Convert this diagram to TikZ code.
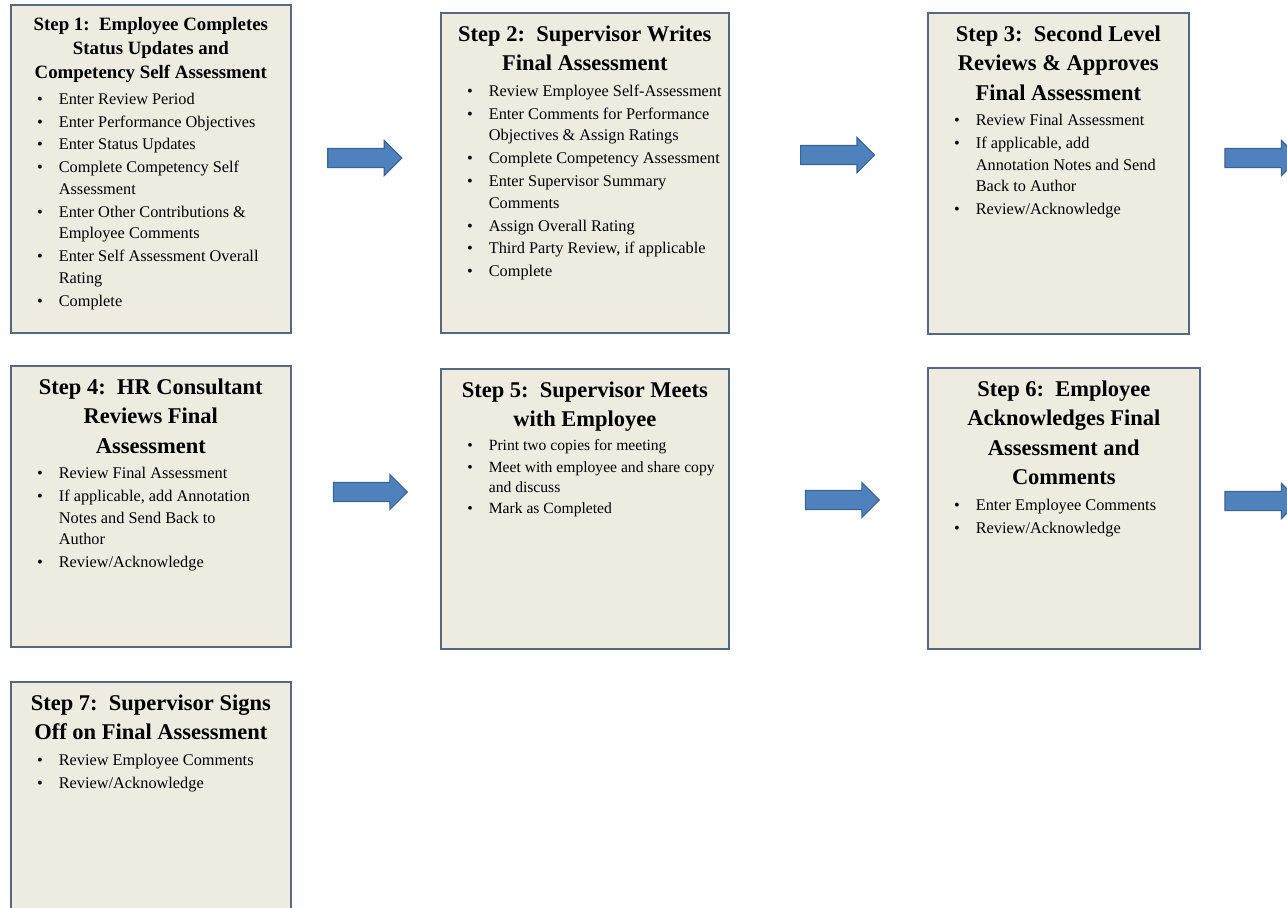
\documentclass[tikz,border=0pt]{standalone}
\usepackage{fontspec}
\setmainfont{Liberation Serif}
\usetikzlibrary{shapes.arrows}

\definecolor{boxfill}{HTML}{EEEBE0}
\definecolor{boxline}{HTML}{55687F}
\definecolor{arrowfill}{HTML}{4F81BD}
\definecolor{arrowline}{HTML}{3A6396}

\newcommand{\titlefont}{\fontsize{16}{21}\selectfont}
\newcommand{\smalltitlefont}{\fontsize{13.4}{17}\selectfont}
\newcommand{\bodyfont}{\fontsize{11.6}{15.3}\selectfont}
\newcommand{\smallbodyfont}{\fontsize{11.1}{14.2}\selectfont}

\newenvironment{steplist}{%
  \begin{list}{\textbullet}{%
    \setlength{\leftmargin}{1.2cm}\setlength{\rightmargin}{0pt}%
    \setlength{\labelwidth}{0.2cm}\setlength{\labelsep}{0.4cm}%
    \setlength{\topsep}{0pt}\setlength{\partopsep}{0pt}%
    \setlength{\parsep}{0pt}\setlength{\itemsep}{1pt}}}%
  {\end{list}}

% width, height, title font, title, body font, items
\newcommand{\steptext}[6]{%
  \parbox[t][#2][t]{#1}{\vspace*{9pt}%
    {\centering\bfseries #3#4\par}\vspace{3pt}%
    #5\raggedright
    \begin{steplist}#6\end{steplist}}}

\tikzset{
  stepbox/.style={rectangle, draw=boxline, fill=boxfill, line width=1.2pt, inner sep=0pt, anchor=north west},
  blockarrow/.style={single arrow, draw=arrowline, fill=arrowfill, line width=0.8pt,
    inner xsep=0pt, inner ysep=0.225cm, minimum height=1.85cm, single arrow head extend=0.2cm}
}

\begin{document}
\begin{tikzpicture}
    \useasboundingbox (0,0) rectangle (32.175,-22.675);
    \clip (0,0) rectangle (32.175,-22.675);

    % first row
    \node at (0.25,-0.1) [stepbox] (step1) {\steptext{7cm}{8.2cm}{\smalltitlefont}
        {Step 1:\ \ Employee Completes\\ Status Updates and\\ Competency Self Assessment}{\bodyfont}
        {\item Enter Review Period
         \item Enter Performance Objectives
         \item Enter Status Updates
         \item Complete Competency Self\newline Assessment
         \item Enter Other Contributions \&\newline Employee Comments
         \item Enter Self Assessment Overall\newline Rating
         \item Complete}};
    \node at (11,-0.3) [stepbox] (step2) {\steptext{7.2cm}{8cm}{\titlefont}
        {Step 2:\ \ Supervisor Writes\\ Final Assessment}{\bodyfont}
        {\item Review Employee Self-Assessment
         \item Enter Comments for Performance\newline Objectives \& Assign Ratings
         \item Complete Competency Assessment
         \item Enter Supervisor Summary\newline Comments
         \item Assign Overall Rating
         \item Third Party Review, if applicable
         \item Complete}};
    \node at (23.175,-0.3) [stepbox] (step3) {\steptext{6.525cm}{8.025cm}{\titlefont}
        {Step 3:\ \ Second Level\\ Reviews \& Approves\\ Final Assessment}{\bodyfont}
        {\item Review Final Assessment
         \item If applicable, add\newline Annotation Notes and Send\newline Back to Author
         \item Review/Acknowledge}};

    % second row
    \node at (0.25,-9.125) [stepbox] (step4) {\steptext{7cm}{7.025cm}{\titlefont}
        {Step 4:\ \ HR Consultant\\ Reviews Final\\ Assessment}{\bodyfont}
        {\item Review Final Assessment
         \item If applicable, add Annotation\newline Notes and Send Back to\newline Author
         \item Review/Acknowledge}};
    \node at (11,-9.2) [stepbox] (step5) {\steptext{7.2cm}{7cm}{\titlefont}
        {Step 5:\ \ Supervisor Meets\\ with Employee}{\smallbodyfont}
        {\item Print two copies for meeting
         \item Meet with employee and share copy\newline and discuss
         \item Mark as Completed}};
    \node at (23.175,-9.175) [stepbox] (step6) {\steptext{6.8cm}{7.025cm}{\titlefont}
        {Step 6:\ \ Employee\\ Acknowledges Final\\ Assessment and\\ Comments}{\bodyfont}
        {\item Enter Employee Comments
         \item Review/Acknowledge}};

    % third row
    \node at (0.25,-17.025) [stepbox] (step7) {\steptext{7cm}{6cm}{\titlefont}
        {Step 7:\ \ Supervisor Signs\\ Off on Final Assessment}{\bodyfont}
        {\item Review Employee Comments
         \item Review/Acknowledge}};

    % arrows between the steps
    \node at (9.0,-3.95) [blockarrow] (arrow1) {};
    \node at (20.82,-3.875) [blockarrow] (arrow2) {};
    \node at (31.43,-3.95) [blockarrow] (arrow3) {};
    \node at (9.14,-12.3) [blockarrow] (arrow4) {};
    \node at (20.94,-12.5) [blockarrow] (arrow5) {};
    \node at (31.43,-12.525) [blockarrow] (arrow6) {};
\end{tikzpicture}
\end{document}
